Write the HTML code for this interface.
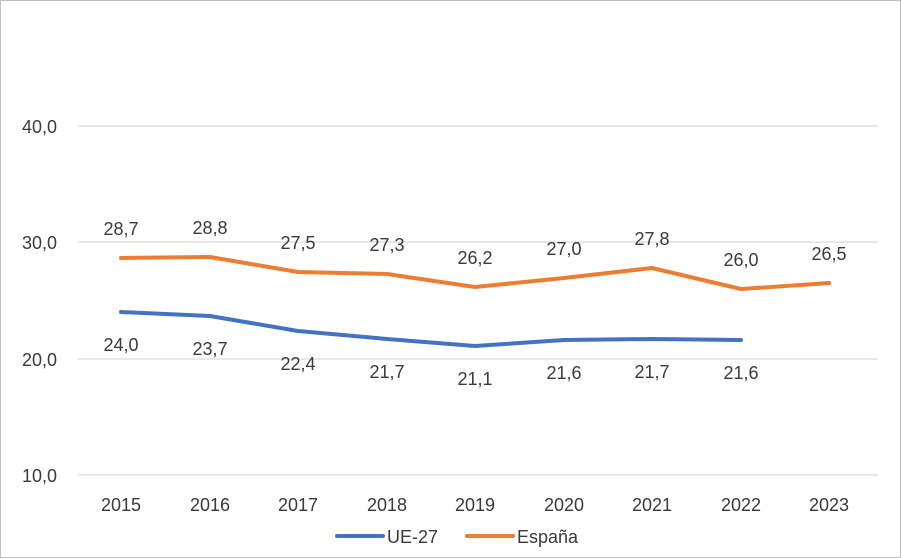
<!DOCTYPE html>
<html><head><meta charset="utf-8"><style>
html,body{margin:0;padding:0;background:#fff}
svg{display:block}
text{font-family:"Liberation Sans",sans-serif;font-size:18px;fill:#3a3a3a}
</style></head><body>
<svg width="901" height="558" viewBox="0 0 901 558">
<rect x="0.5" y="0.5" width="900" height="557" fill="#fff" stroke="#bfbfbf"/>
<g stroke="#d9d9d9" stroke-width="1.3">
<line x1="78" y1="126" x2="878" y2="126"/>
<line x1="78" y1="242" x2="878" y2="242"/>
<line x1="78" y1="359" x2="878" y2="359"/>
<line x1="78" y1="475" x2="878" y2="475"/>
</g>
<g text-anchor="end">
<text x="57" y="133">40,0</text>
<text x="57" y="249">30,0</text>
<text x="57" y="366">20,0</text>
<text x="57" y="482">10,0</text>
</g>
<g text-anchor="middle">
<text x="121" y="511">2015</text><text x="210" y="511">2016</text><text x="298" y="511">2017</text>
<text x="387" y="511">2018</text><text x="475" y="511">2019</text><text x="564" y="511">2020</text>
<text x="652" y="511">2021</text><text x="741" y="511">2022</text><text x="829" y="511">2023</text>
</g>
<polyline fill="none" stroke="#ed7d31" stroke-width="4" stroke-linejoin="round" stroke-linecap="round"
 points="121,258 210,257 298,272 387,274 475,287 564,278 652,268 741,289 829,283"/>
<polyline fill="none" stroke="#4472c4" stroke-width="4" stroke-linejoin="round" stroke-linecap="round"
 points="121,312 210,316 298,331 387,339 475,346 564,340 652,339 741,340"/>
<g text-anchor="middle">
<text x="121" y="235">28,7</text><text x="210" y="234">28,8</text><text x="298" y="249">27,5</text>
<text x="387" y="251">27,3</text><text x="475" y="264">26,2</text><text x="564" y="255">27,0</text>
<text x="652" y="245">27,8</text><text x="741" y="266">26,0</text><text x="829" y="260">26,5</text>
<text x="121" y="351">24,0</text><text x="210" y="355">23,7</text><text x="298" y="370">22,4</text>
<text x="387" y="378">21,7</text><text x="475" y="385">21,1</text><text x="564" y="379">21,6</text>
<text x="652" y="378">21,7</text><text x="741" y="379">21,6</text>
</g>
<line x1="337" y1="536" x2="383" y2="536" stroke="#4472c4" stroke-width="4" stroke-linecap="round"/>
<text x="387" y="543">UE-27</text>
<line x1="467" y1="536" x2="513" y2="536" stroke="#ed7d31" stroke-width="4" stroke-linecap="round"/>
<text x="517" y="543">España</text>
</svg>
</body></html>
